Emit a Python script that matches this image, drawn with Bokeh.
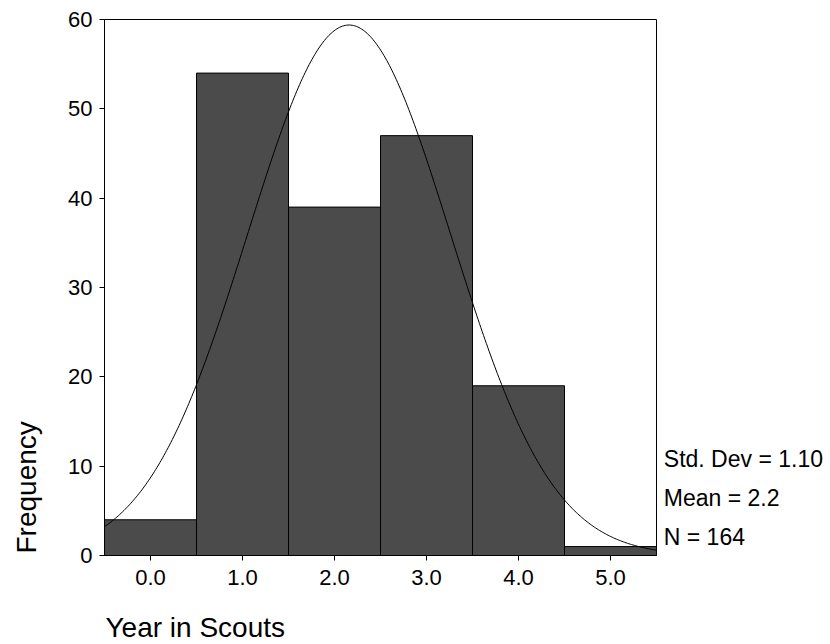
import numpy as np
from bokeh.plotting import figure
from bokeh.models import Range1d, FixedTicker, NumeralTickFormatter
from bokeh.layouts import row, column
from bokeh.core.properties import value
from bokeh.embed import file_html
from bokeh.resources import INLINE

# ---- data ----
bin_centers = [0, 1, 2, 3, 4, 5]
frequencies = [4, 54, 39, 47, 19, 1]
y_ticks = [0, 10, 20, 30, 40, 50, 60]
stats_labels = ["Std. Dev = 1.10", "Mean = 2.2", "N = 164"]
x_title = "Year in Scouts"
y_title = "Frequency"

FONT = "Liberation Sans"
BAR_FILL = "#4b4b4b"
W, H = 830, 644
TOP_H = 598                     # height of the row holding the plot
FRAME_TOP, FRAME_BOTTOM = 19, 555
BASELINE_FIX = 9                # svg baseline compensation (px)

centers = np.array(bin_centers, dtype=float)
counts = np.array(frequencies, dtype=float)
n_total = counts.sum()
mean = (centers * counts).sum() / n_total
sd = np.sqrt(((centers - mean) ** 2 * counts).sum() / (n_total - 1))
bin_width = 1.0


def blank(width, height, y_lo, y_hi):
    f = figure(width=width, height=height, output_backend="svg", toolbar_location=None,
               x_range=Range1d(0, width), y_range=Range1d(y_lo, y_hi),
               x_axis_location=None, y_axis_location=None, min_border=0)
    f.xgrid.visible = False
    f.ygrid.visible = False
    f.outline_line_color = None
    f.background_fill_color = "white"
    f.border_fill_color = "white"
    return f


# ---- left panel: y title (y data = page pixel from bottom) ----
lf = blank(60, TOP_H, H - FRAME_BOTTOM, H - FRAME_TOP)
lf.text(x=[35 - BASELINE_FIX], y=[H - 553], text=[y_title], angle=np.pi / 2,
        text_font=value(FONT), text_font_size="28px", text_color="black",
        text_align="left", text_baseline="alphabetic")

# ---- main histogram ----
p = figure(width=598, height=TOP_H, output_backend="svg", toolbar_location=None,
           x_range=Range1d(-0.5, 5.5), y_range=Range1d(0, 60),
           min_border_left=44, min_border_right=2,
           min_border_top=FRAME_TOP, min_border_bottom=TOP_H - FRAME_BOTTOM)
p.xgrid.visible = False
p.ygrid.visible = False
p.outline_line_color = "black"
p.outline_line_width = 1
p.background_fill_color = "white"
p.border_fill_color = "white"

p.quad(left=centers - bin_width / 2, right=centers + bin_width / 2,
       bottom=0, top=counts, fill_color=BAR_FILL, line_color="black", line_width=1)

# fitted normal curve from the histogram's own mean / sd / N
xs = np.linspace(-0.5, 5.5, 400)
ys = n_total * bin_width / (sd * np.sqrt(2 * np.pi)) * np.exp(-0.5 * ((xs - mean) / sd) ** 2)
p.line(xs, ys, line_color="black", line_width=1)

for ax in (p.xaxis[0], p.yaxis[0]):
    ax.axis_line_color = "black"
    ax.major_tick_line_color = "black"
    ax.major_tick_out = 5
    ax.major_tick_in = 0
    ax.minor_tick_line_color = None
    ax.major_label_text_font = FONT
    ax.major_label_text_font_size = "22px"
    ax.major_label_text_color = "black"

p.xaxis.ticker = FixedTicker(ticks=bin_centers)
p.xaxis.formatter = NumeralTickFormatter(format="0.0")
p.xaxis.major_label_standoff = 9
p.yaxis.ticker = FixedTicker(ticks=y_ticks)
p.yaxis.major_label_standoff = 7

# ---- right panel: statistics ----
s = blank(172, TOP_H, H - FRAME_BOTTOM, H - FRAME_TOP)
stat_x = [5.3, 5.3, 5.3]
stat_y = [H - 467.3 + BASELINE_FIX, H - 506.0 + BASELINE_FIX, H - 545.0 + BASELINE_FIX]
s.text(x=stat_x, y=stat_y, text=stats_labels, text_font=value(FONT),
       text_font_size="23px", text_color="black",
       text_align="left", text_baseline="alphabetic")

# ---- bottom strip: x title (y data = page pixel from bottom) ----
bf = blank(W, H - TOP_H, 0, H - TOP_H)
bf.text(x=[105], y=[H - 635.7 + BASELINE_FIX], text=[x_title], text_font=value(FONT),
        text_font_size="28px", text_color="black",
        text_align="left", text_baseline="alphabetic")

layout = column(row(lf, p, s, spacing=0), bf, spacing=0)
open("out.html", "w").write(file_html(layout, INLINE))
